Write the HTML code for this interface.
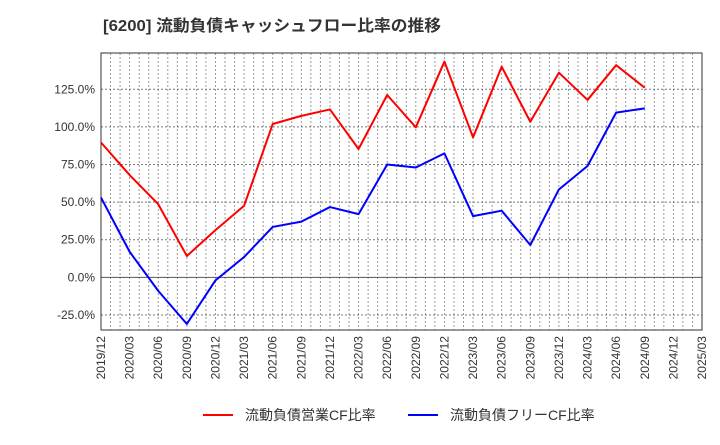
<!DOCTYPE html>
<html><head><meta charset="utf-8"><style>
body{margin:0;background:#fff;width:720px;height:440px;overflow:hidden;font-family:"Liberation Sans","Noto Sans CJK JP",sans-serif;}
</style></head><body>
<svg id="chart" width="720" height="440" xmlns="http://www.w3.org/2000/svg">
<text x="103" y="31" font-size="16" font-weight="bold" fill="#333" textLength="338" lengthAdjust="spacingAndGlyphs" font-family="Liberation Sans, Noto Sans CJK JP, sans-serif">[6200]  流動負債キャッシュフロー比率の推移</text>
<g id="grid"></g><g id="axes"></g><g id="series"></g>
<g>
<line x1="203" y1="415" x2="233" y2="415" stroke="#f00" stroke-width="2"/>
<text x="245" y="420" font-size="14" fill="#333" font-family="Liberation Sans, Noto Sans CJK JP, sans-serif">流動負債営業CF比率</text>
<line x1="408" y1="415" x2="438" y2="415" stroke="#00f" stroke-width="2"/>
<text x="450" y="420" font-size="14" fill="#333" font-family="Liberation Sans, Noto Sans CJK JP, sans-serif">流動負債フリーCF比率</text>
</g>
</svg>
<script>
const xLabels=["2019/12","2020/03","2020/06","2020/09","2020/12","2021/03","2021/06","2021/09","2021/12","2022/03","2022/06","2022/09","2022/12","2023/03","2023/06","2023/09","2023/12","2024/03","2024/06","2024/09","2024/12","2025/03"];
const yTicks=[-25,0,25,50,75,100,125];
const operatingCF=[89.6,68,48.6,14.2,31.4,47.6,101.9,107.3,111.6,85.3,121.2,99.7,143.4,93,140,103.4,136,117.9,141,126];
const freeCF=[53,17,-9,-31,-2,13.5,33.5,37,46.7,42,75,73,82.4,40.7,44.3,21.5,58.4,74,109.5,112.3];
const L=101,R=702,T=53,B=330,yMin=-35,yMax=149.1;
const NS="http://www.w3.org/2000/svg";
const xs=i=>L+(R-L)*i/(xLabels.length-1);
const ys=v=>B-(v-yMin)/(yMax-yMin)*(B-T);
function mk(tag,attrs,parent){const e=document.createElementNS(NS,tag);for(const k in attrs)e.setAttribute(k,attrs[k]);parent.appendChild(e);return e;}
const grid=document.getElementById('grid'),axes=document.getElementById('axes'),ser=document.getElementById('series');
mk('rect',{x:L,y:T,width:R-L,height:B-T,fill:'#fff'},grid);
const nM=(xLabels.length-1)*3;
for(let m=1;m<nM;m++){const x=L+(R-L)*m/nM;
const g=mk('line',{x1:x,y1:T,x2:x,y2:B,stroke:'#999','stroke-width':1,'stroke-dasharray':'2,2'},grid);

}
yTicks.forEach(v=>{const y=ys(v);
const g=mk('line',{x1:L,y1:y,x2:R,y2:y,stroke:v===0?'#555':'#777','stroke-width':1,'stroke-dasharray':v===0?'none':'2,2'},grid);


const t=mk('text',{x:L-6,y:y+4,'text-anchor':'end','font-size':12,fill:'#333'},axes);t.textContent=v.toFixed(1)+'%';

});
xLabels.forEach((lb,i)=>{const x=xs(i);
const t=mk('text',{x:0,y:0,'text-anchor':'end','font-size':12,fill:'#333',transform:`translate(${x+4},336) rotate(-90)`},axes);t.textContent=lb;

});
const fr=mk('rect',{x:L,y:T,width:R-L,height:B-T,fill:'none',stroke:'#333','stroke-width':1},axes);


function line(data,color,name){const p=mk('polyline',{points:data.map((v,i)=>xs(i)+','+ys(v)).join(' '),fill:'none',stroke:color,'stroke-width':2,'stroke-linejoin':'round'},ser);

}
line(operatingCF,'#f00','operating-cf-line');
line(freeCF,'#00f','free-cf-line');
</script>
</body></html>
